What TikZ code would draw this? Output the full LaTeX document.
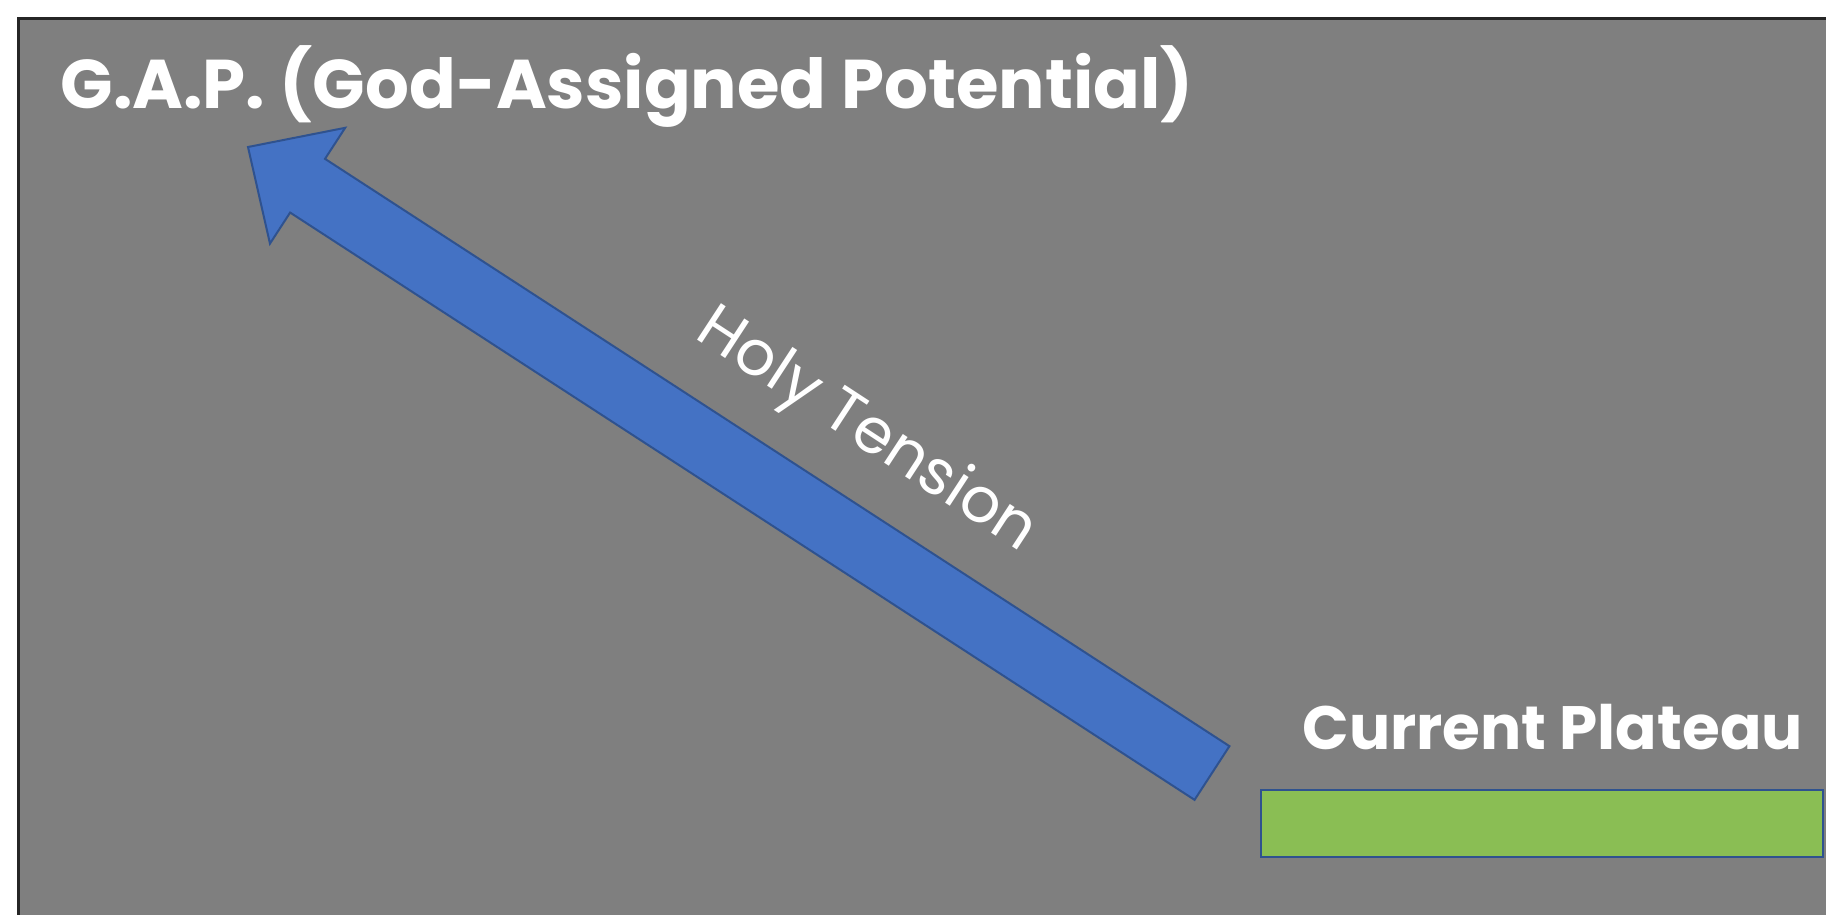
\documentclass[tikz,border=0pt]{standalone}
\usepackage{fontspec}
\setmainfont{Poppins}
\usetikzlibrary{calc}

\definecolor{slidegrey}{RGB}{127,127,127}
\definecolor{framegrey}{RGB}{38,38,38}
\definecolor{arrowblue}{RGB}{68,114,196}
\definecolor{arrowedge}{RGB}{47,82,143}
\definecolor{plateaugreen}{RGB}{138,190,84}

\begin{document}
\begin{tikzpicture}[x=0.01cm, y=-0.01cm,
    whitetext/.style={text=white, inner sep=0pt},
    heading/.style={whitetext, anchor=base west, font=\bfseries\fontsize{19.6}{24}\selectfont}]

      \useasboundingbox (0,0) rectangle (1826,914);
      \fill[white] (0,0) rectangle (1826,914);
      \draw[framegrey, line width=0.03cm, fill=slidegrey] (18.5,18.5) rectangle (1850,940);

      \coordinate (tail) at (1212,773);
      \coordinate (tip) at (248,147);
      \coordinate (hb) at ($(tip)!0.71cm!(tail)$);

      \draw[arrowedge, line width=0.02cm, fill=arrowblue, line join=miter]
        ($(tail)!0.32cm!90:(tip)$) -- ($(hb)!0.32cm!-90:(tail)$) -- ($(hb)!0.69cm!-90:(tail)$)
        -- (tip) -- ($(hb)!0.69cm!90:(tail)$) -- ($(hb)!0.32cm!90:(tail)$)
        -- ($(tail)!0.32cm!-90:(tip)$) -- cycle;

      \draw[arrowedge, line width=0.02cm, fill=plateaugreen] (1261,790) rectangle (1823,857);

      \node[heading] (gap) at (60,108) {G.A.P. (God-Assigned Potential)};
      \node[heading, font=\bfseries\fontsize{17.4}{21}\selectfont] (plateau) at (1302,749) {Current Plateau};
      \node[whitetext, rotate=-33.2, font=\fontsize{17.8}{21}\selectfont] (tension) at (866,432) {Holy Tension};
    \end{tikzpicture}
\end{document}
